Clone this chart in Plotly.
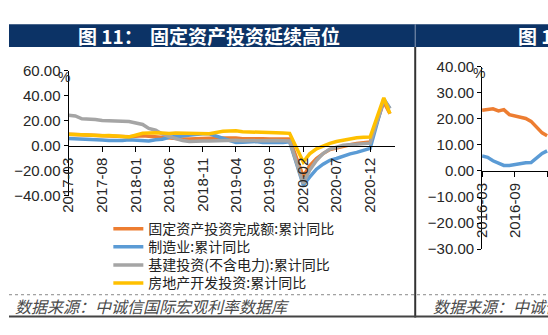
import plotly.graph_objects as go

W, H = 548, 335


def px(x):
    return x / W


def py(y):
    return 1 - y / H


# ---------------- data: left chart (图 11) ----------------
left_dates = [
    "2017-03", "2017-04", "2017-05", "2017-06", "2017-07", "2017-08", "2017-09", "2017-10", "2017-11", "2017-12",
    "2018-02", "2018-03", "2018-04", "2018-05", "2018-06", "2018-07", "2018-08", "2018-09", "2018-10", "2018-11", "2018-12",
    "2019-02", "2019-03", "2019-04", "2019-05", "2019-06", "2019-07", "2019-08", "2019-09", "2019-10", "2019-11", "2019-12",
    "2020-02", "2020-03", "2020-04", "2020-05", "2020-06", "2020-07", "2020-08", "2020-09", "2020-10", "2020-11", "2020-12",
    "2021-02", "2021-03",
]
fai = [9.2, 8.9, 8.6, 8.6, 8.3, 7.8, 7.5, 7.3, 7.2, 7.2,
       7.9, 7.5, 7.0, 6.1, 6.0, 5.5, 5.3, 5.4, 5.7, 5.9, 5.9,
       6.1, 6.3, 6.1, 5.6, 5.8, 5.7, 5.5, 5.4, 5.2, 5.2, 5.4,
       -24.5, -16.1, -10.3, -6.3, -3.1, -1.6, -0.3, 0.8, 1.8, 2.6, 2.9,
       35.0, 25.6]
manufacturing = [5.8, 5.6, 5.1, 5.5, 4.8, 4.5, 4.2, 4.1, 4.1, 4.8,
                 4.3, 3.8, 4.8, 5.2, 6.8, 7.3, 7.5, 8.7, 9.1, 9.5, 9.5,
                 5.9, 4.6, 2.5, 2.7, 3.0, 3.3, 2.6, 2.5, 2.6, 2.5, 3.1,
                 -31.5, -25.2, -18.8, -14.8, -11.7, -10.2, -8.1, -6.5, -5.3, -3.5, -2.2,
                 37.3, 29.8]
infrastructure = [24.3, 23.8, 21.5, 21.6, 21.0, 20.2, 20.0, 19.7, 20.1, 19.4,
                  17.0, 13.8, 12.4, 9.4, 7.3, 5.7, 4.2, 3.3, 3.7, 3.7, 3.8,
                  4.3, 4.4, 4.4, 4.0, 4.1, 3.8, 4.2, 4.5, 4.2, 4.0, 3.8,
                  -30.3, -19.7, -11.8, -6.3, -2.7, -1.0, 0.3, 0.8, 1.3, 1.7, 2.0,
                  36.6, 29.7]
real_estate = [9.1, 9.3, 8.8, 8.5, 7.9, 7.9, 8.1, 7.8, 7.5, 7.0,
               9.9, 10.4, 10.3, 10.2, 9.7, 10.2, 10.1, 9.9, 9.7, 9.7, 9.5,
               11.6, 11.8, 11.9, 11.2, 10.9, 10.6, 10.5, 10.5, 10.3, 10.2, 9.9,
               -13.0, -6.5, -2.5, 0.0, 1.9, 3.4, 4.6, 5.6, 6.3, 6.8, 7.0,
               38.3, 25.6]
left_names = [
    "固定资产投资完成额:累计同比",
    "制造业:累计同比",
    "基建投资(不含电力):累计同比",
    "房地产开发投资:累计同比",
]
left_series = [fai, manufacturing, infrastructure, real_estate]
colors = ["#ED7D31", "#5B9BD5", "#A5A5A5", "#FFC000"]

# ---------------- data: right chart (图 12, cropped) ----------------
right_dates = ["2016-03", "2016-04", "2016-05", "2016-06", "2016-07", "2016-08",
               "2016-09", "2016-10", "2016-11", "2016-12", "2017-02", "2017-03"]
right_orange = [23.3, 23.7, 23.8, 23.0, 23.5, 21.6, 21.2, 20.7, 20.1, 19.0, 14.6, 13.5]
right_blue = [5.7, 5.2, 3.9, 2.8, 2.1, 2.1, 2.5, 2.9, 3.1, 3.2, 6.7, 7.7]

cjk = "Noto Sans CJK SC, sans-serif"
legend_ids = ["legend", "legend2", "legend3", "legend4"]
legend_rows = [232, 251, 270, 289]

fig = go.Figure()
for name, vals, c, lid in zip(left_names, left_series, colors, legend_ids):
    fig.add_trace(go.Scatter(x=left_dates, y=vals, name=name, mode="lines",
                             line=dict(color=c, width=3.5), legend=lid,
                             xaxis="x", yaxis="y"))
for vals, c in zip([right_orange, right_blue], colors[:2]):
    fig.add_trace(go.Scatter(x=right_dates, y=vals, mode="lines", showlegend=False,
                             line=dict(color=c, width=3.5),
                             xaxis="x2", yaxis="y2"))

tickfont = dict(family="Liberation Sans, Arial, sans-serif", size=15, color="#262626")

# left plot geometry
L_x0, L_x1 = 60.5, 392
L_ytop, L_ybot = 65, 196.7
L_zero = L_ybot - (L_ybot - L_ytop) * 40 / 100
# right plot geometry
R_x0 = 481
R_ytop, R_ybot = 60.7, 253
R_zero = R_ybot - (R_ybot - R_ytop) * 30 / 70

axis_common = dict(showgrid=False, zeroline=False, showline=True, linecolor="#000",
                   linewidth=1, ticks="outside", tickcolor="#000", ticklen=5,
                   tickfont=tickfont)

legend_layout = {}
for lid, row in zip(legend_ids, legend_rows):
    legend_layout[lid] = dict(x=px(101), y=py(row), xanchor="left", yanchor="middle",
                              font=dict(family=cjk, size=14, color="#222"),
                              bgcolor="rgba(0,0,0,0)", itemwidth=30)

fig.update_layout(
    width=W, height=H, autosize=False,
    margin=dict(l=0, r=0, t=0, b=0),
    paper_bgcolor="white", plot_bgcolor="white",
    showlegend=True,
    xaxis=dict(axis_common, type="date", domain=[px(L_x0), px(L_x1)],
               range=["2017-03-01", "2021-03-22"], anchor="free", position=py(L_zero),
               tick0="2017-03-01", dtick="M5", tickformat="%Y-%m", tickangle=-90),
    yaxis=dict(axis_common, domain=[py(L_ybot), py(L_ytop)], range=[-40, 60],
               dtick=20, tickformat=".2f", anchor="x", ticklen=4),
    xaxis2=dict(axis_common, type="date", domain=[px(R_x0), 1.0],
                range=["2016-03-01", "2017-03-06"], anchor="free", position=py(R_zero),
                tick0="2016-03-01", dtick="M6", tickformat="%Y-%m", tickangle=-90),
    yaxis2=dict(axis_common, domain=[py(R_ybot), py(R_ytop)], range=[-30, 40],
                dtick=10, tickformat=".2f", anchor="x2", ticklen=4),
    **legend_layout,
)

navy = "#0C3366"
shapes = [
    dict(type="rect", xref="paper", yref="paper", x0=0, x1=1, y0=py(40), y1=py(16),
         fillcolor=navy, line=dict(width=0), layer="below"),
    dict(type="line", xref="paper", yref="paper", x0=px(413), x1=px(413), y0=py(40), y1=py(16),
         line=dict(color="#8a9ab5", width=1)),
    dict(type="line", xref="paper", yref="paper", x0=px(413), x1=px(413), y0=py(325), y1=py(40),
         line=dict(color="#333", width=2)),
    dict(type="line", xref="paper", yref="paper", x0=0, x1=1, y0=py(301), y1=py(301),
         line=dict(color="#888", width=1, dash="dot")),
    dict(type="line", xref="paper", yref="paper", x0=0, x1=1, y0=py(324), y1=py(324),
         line=dict(color="#444", width=2)),
]
fig.update_layout(shapes=shapes)

ann = []
title_font = dict(family=cjk, size=19, color="white")
ann.append(dict(text="<b>图 11：</b>", x=px(68), y=py(28), xref="paper", yref="paper",
                xanchor="left", yanchor="middle", showarrow=False, font=title_font))
ann.append(dict(text="<b>固定资产投资延续高位</b>", x=px(141), y=py(28), xref="paper", yref="paper",
                xanchor="left", yanchor="middle", showarrow=False, font=title_font))
ann.append(dict(text="<b>图 12：</b>", x=px(515), y=py(28), xref="paper", yref="paper",
                xanchor="left", yanchor="middle", showarrow=False, font=title_font))
unit_font = dict(family="Liberation Sans, Arial", size=14, color="#262626")
ann.append(dict(text="%", x=px(56), y=py(72), xref="paper", yref="paper",
                xanchor="center", yanchor="middle", showarrow=False, font=unit_font))
ann.append(dict(text="%", x=px(478), y=py(67), xref="paper", yref="paper",
                xanchor="center", yanchor="middle", showarrow=False, font=unit_font))
src_font = dict(family=cjk, size=16, color="#4a4a4a")
ann.append(dict(text="<i>数据来源：中诚信国际宏观利率数据库</i>", x=px(4), y=py(313),
                xref="paper", yref="paper", xanchor="left", yanchor="middle",
                showarrow=False, font=src_font))
ann.append(dict(text="<i>数据来源：中诚信国际宏观利率数据库</i>", x=px(429), y=py(313),
                xref="paper", yref="paper", xanchor="left", yanchor="middle",
                showarrow=False, font=src_font))
fig.update_layout(annotations=ann)

fig.write_html("out.html")
